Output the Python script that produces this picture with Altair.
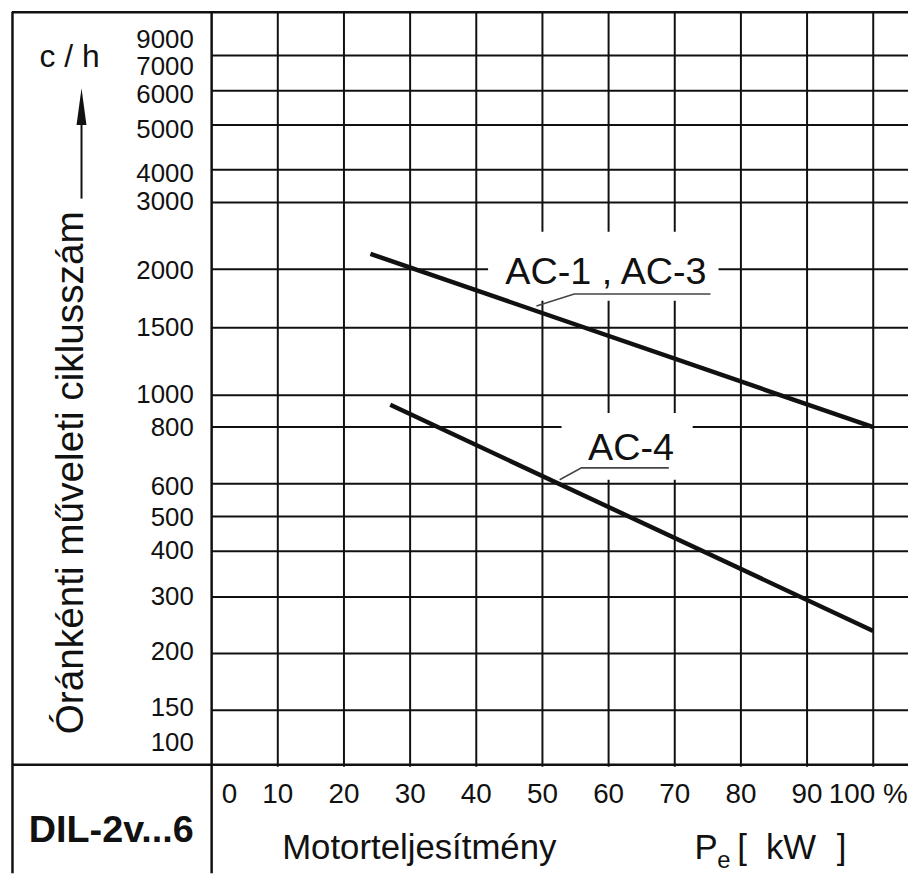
import altair as alt
import pandas as pd

# ---------------- data ----------------
x_ticks = [0, 10, 20, 30, 40, 50, 60, 70, 80, 90, 100]
x_tick_labels = ["0", "10", "20", "30", "40", "50", "60", "70", "80", "90", "100 %"]

y_grid_values = [150, 200, 300, 400, 500, 600, 800, 1000, 1500, 2000, 3000, 4000, 5000, 6000, 7000]
y_tick_values = [100, 150, 200, 300, 400, 500, 600, 800, 1000, 1500, 2000, 3000, 4000, 5000, 6000, 7000, 9000]
y_tick_labels = [str(v) for v in y_tick_values]

series_names = ["AC-1 , AC-3", "AC-4"]
ac13_pct = [24, 100]
ac13_cph = [2230, 800]
ac4_pct = [27, 100]
ac4_cph = [940, 240]

label_pct = [59.6, 63.4]
label_cph = [1873, 684]
leader13_pct = [49.1, 54.8, 75.4]
leader13_cph = [1686, 1788, 1788]
leader4_pct = [52.6, 55.9, 69.1]
leader4_cph = [614, 656, 656]
box_pct = [59.2, 62.8]
box_cph = [2044, 732]

# ---------------- layout / styling ----------------
OFF = 8
W, H = 906, 868
INK = "#111111"
FONT = "Liberation Sans"


def v(p):
    return p - OFF


X_SCALE = alt.Scale(domain=[0, 100], range=[v(213), v(879)], nice=False, zero=False)
grid_px = [712, 655, 598, 552, 517, 484, 427, 395, 327, 268, 201, 168, 123, 88.5, 53]
Y_SCALE = alt.Scale(domain=y_grid_values, range=[v(p) for p in grid_px], nice=False, zero=False)
label_px = [745, 710, 653, 598, 552, 519, 487, 428, 395, 327, 270, 200, 172, 128, 93, 65, 37]
Y_LABEL_SCALE = alt.Scale(domain=y_tick_values, range=[v(p) for p in label_px], nice=False, zero=False)

one = pd.DataFrame({"a": [0]})

# grid
vgrid = alt.Chart(pd.DataFrame({"pct": x_ticks[1:]})).mark_rule(color=INK, strokeWidth=2).encode(
    x=alt.X("pct:Q", scale=X_SCALE, axis=None),
    y=alt.value(v(9)), y2=alt.value(v(769)),
)
hgrid = alt.Chart(pd.DataFrame({"cph": y_grid_values})).mark_rule(color=INK, strokeWidth=2).encode(
    y=alt.Y("cph:Q", scale=Y_SCALE, axis=None),
    x=alt.value(v(213)), x2=alt.value(W),
)

# frame
frame = [
    alt.Chart(one).mark_rule(color=INK, strokeWidth=2.5).encode(x=alt.value(v(12)), x2=alt.value(W), y=alt.value(v(9.5))),
    alt.Chart(one).mark_rule(color=INK, strokeWidth=2.5).encode(x=alt.value(v(12.5)), y=alt.value(v(9)), y2=alt.value(H)),
    alt.Chart(one).mark_rule(color=INK, strokeWidth=2.5).encode(x=alt.value(v(213)), y=alt.value(v(9)), y2=alt.value(H)),
    alt.Chart(one).mark_rule(color=INK, strokeWidth=2.5).encode(x=alt.value(v(12)), x2=alt.value(W), y=alt.value(v(767))),
]

# white label boxes
box_shapes = ["M-1,-0.3L1,-0.3L1,0.3L-1,0.3Z", "M-1,-0.51L1,-0.51L1,0.51L-1,0.51Z"]
box_sizes = [232 ** 2, 132 ** 2]
boxes = []
for i in range(2):
    boxes.append(
        alt.Chart(pd.DataFrame({"pct": [box_pct[i]], "cph": [box_cph[i]]}))
        .mark_point(shape=box_shapes[i], filled=True, fill="white", size=box_sizes[i], opacity=1, strokeWidth=0)
        .encode(x=alt.X("pct:Q", scale=X_SCALE, axis=None), y=alt.Y("cph:Q", scale=Y_SCALE, axis=None))
    )

# curves
curves_df = pd.DataFrame({
    "series": [series_names[0]] * len(ac13_pct) + [series_names[1]] * len(ac4_pct),
    "pct": ac13_pct + ac4_pct,
    "cph": ac13_cph + ac4_cph,
})
curves = alt.Chart(curves_df).mark_line(color=INK, strokeWidth=4.5, strokeCap="butt").encode(
    x=alt.X("pct:Q", scale=X_SCALE, axis=None),
    y=alt.Y("cph:Q", scale=Y_SCALE, axis=None),
    detail="series:N",
)

leaders_df = pd.DataFrame({
    "series": [series_names[0]] * 3 + [series_names[1]] * 3,
    "pct": leader13_pct + leader4_pct,
    "cph": leader13_cph + leader4_cph,
    "o": [0, 1, 2, 0, 1, 2],
})
leaders = alt.Chart(leaders_df).mark_line(color="#444444", strokeWidth=1.6).encode(
    x=alt.X("pct:Q", scale=X_SCALE, axis=None),
    y=alt.Y("cph:Q", scale=Y_SCALE, axis=None),
    detail="series:N",
    order="o:Q",
)

labels = alt.Chart(pd.DataFrame({"name": series_names, "pct": label_pct, "cph": label_cph})).mark_text(
    font=FONT, fontSize=38, color=INK, align="center", baseline="alphabetic"
).encode(
    x=alt.X("pct:Q", scale=X_SCALE, axis=None),
    y=alt.Y("cph:Q", scale=Y_SCALE, axis=None),
    text="name:N",
)

# y tick labels
ylabels = alt.Chart(pd.DataFrame({"val": y_tick_values, "lab": y_tick_labels})).mark_text(
    font=FONT, fontSize=26, color=INK, align="right", baseline="middle"
).encode(
    y=alt.Y("val:Q", scale=Y_LABEL_SCALE, axis=None),
    x=alt.value(v(195)),
    text="lab:N",
)

# x tick labels
xl_df = pd.DataFrame({"pct": x_ticks, "lab": x_tick_labels})
xlabels = alt.Chart(xl_df[(xl_df.pct > 0) & (xl_df.pct < 100)]).mark_text(
    font=FONT, fontSize=28, color=INK, align="center", baseline="middle"
).encode(x=alt.X("pct:Q", scale=X_SCALE, axis=None), y=alt.value(v(797)), text="lab:N")
xlabel0 = alt.Chart(xl_df[xl_df.pct == 0]).mark_text(
    font=FONT, fontSize=28, color=INK, align="center", baseline="middle", dx=18
).encode(x=alt.X("pct:Q", scale=X_SCALE, axis=None), y=alt.value(v(797)), text="lab:N")
xlabel100 = alt.Chart(xl_df[xl_df.pct == 100]).mark_text(
    font=FONT, fontSize=28, color=INK, align="center", baseline="middle", dx=-5
).encode(x=alt.X("pct:Q", scale=X_SCALE, axis=None), y=alt.value(v(797)), text="lab:N")


def txt(s, x, y, size, align="center", baseline="alphabetic", weight="normal", angle=0):
    return alt.Chart(one).mark_text(
        text=s, font=FONT, fontSize=size, color=INK, align=align, baseline=baseline,
        fontWeight=weight, angle=angle,
    ).encode(x=alt.value(v(x)), y=alt.value(v(y)))


statics = [
    txt("c / h", 70, 65, 32),
    txt("Óránkénti műveleti ciklusszám", 83, 473, 39, angle=270),
    txt("DIL-2v...6", 112, 845, 38, weight="bold"),
    txt("Motorteljesítmény", 422, 862, 35),
    txt("P", 699, 862, 35, align="left"),
    txt("e", 722, 871, 24, align="left"),
    txt("[", 742, 862, 35, align="left"),
    txt("kW", 771, 862, 35, align="left"),
    txt("]", 852, 862, 35, align="right"),
]

arrow_line = alt.Chart(one).mark_rule(color=INK, strokeWidth=2).encode(
    x=alt.value(v(82)), y=alt.value(v(120)), y2=alt.value(v(197)))
arrow_head = alt.Chart(one).mark_point(
    shape="M0,-1L0.27,1L-0.27,1Z", filled=True, fill=INK, size=37 ** 2, opacity=1, strokeWidth=0
).encode(x=alt.value(v(82)), y=alt.value(v(104.5)))

chart = alt.layer(
    vgrid, hgrid, *frame, *boxes, curves, leaders, labels, ylabels, xlabels, xlabel0, xlabel100,
    arrow_line, arrow_head, *statics,
).resolve_scale(y="independent").properties(
    width=W, height=H, padding=0, autosize=alt.AutoSizeParams(type="none"), background="white"
).configure_view(strokeWidth=0)

chart.save("out.html", embed_options={"renderer": "svg", "actions": False})
